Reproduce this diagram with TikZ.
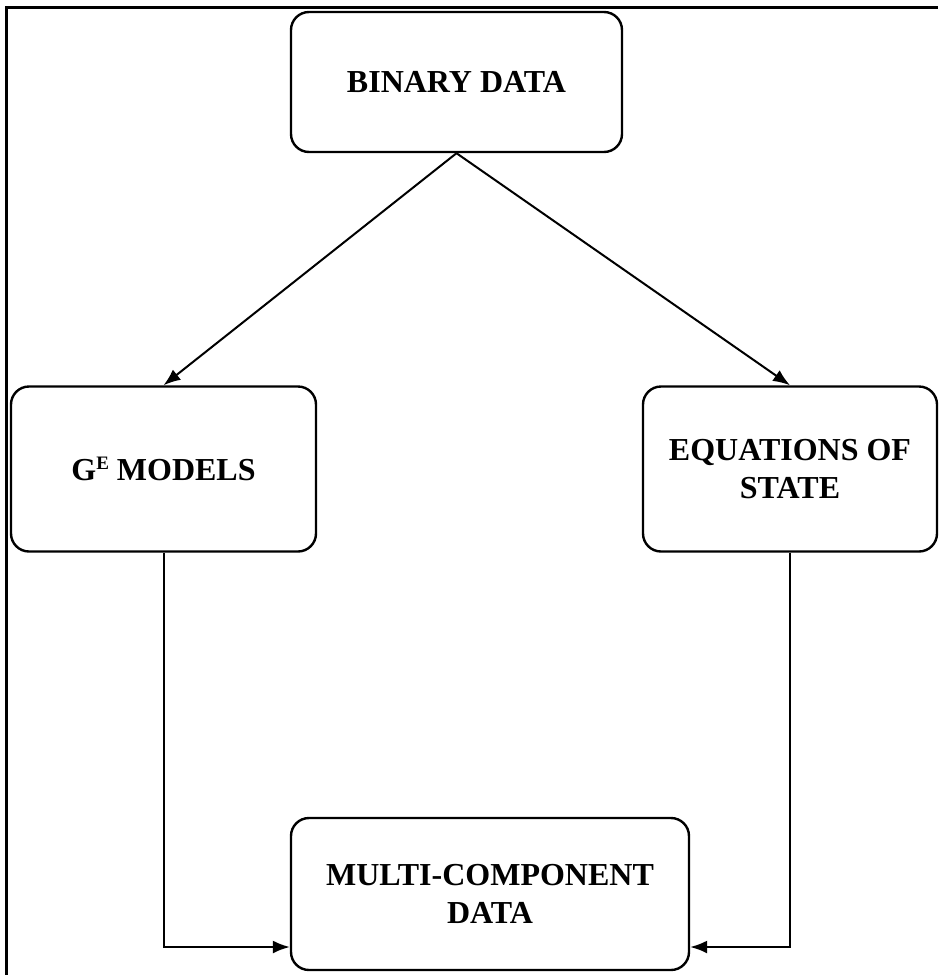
\documentclass[tikz,border=0pt]{standalone}
\usepackage{fontspec}
\setmainfont{Liberation Serif}
\usetikzlibrary{arrows.meta}

\begin{document}
\begin{tikzpicture}[x=1pt,y=-1pt,
		box/.style={draw, line width=2.4pt, rounded corners=18pt, align=center,
			font=\fontsize{32}{38}\selectfont\bfseries, inner sep=0pt},
		link/.style={line width=2pt, -{Latex[length=17pt,width=13pt]}}]
		
		\useasboundingbox (0,0) rectangle (938,975);
		
		% Rahmen
		\draw[line width=3pt] (6,975) -- (6,7) -- (938,7);
		
		% Kaesten
		\node[box, minimum width=331pt, minimum height=140pt] (bin) at (456.5,82) {BINARY DATA};
		\node[box, minimum width=305pt, minimum height=165pt] (gem) at (163.5,469) {G\raisebox{11pt}{\fontsize{19}{19}\selectfont E} MODELS};
		\node[box, minimum width=294pt, minimum height=165pt] (eos) at (790,469) {EQUATIONS OF\\STATE};
		\node[box, minimum width=398pt, minimum height=152pt] (mcd) at (490,894) {MULTI-COMPONENT\\DATA};
		
		% Eingaenge unten
		\coordinate (inL) at ([yshift=-53pt]mcd.west);
		\coordinate (inR) at ([yshift=-53pt]mcd.east);
		
		% Pfeile
		\draw[link] (bin.south) -- (gem.north);
		\draw[link] (bin.south) -- (eos.north);
		\draw[link] (gem.south) |- (inL);
		\draw[link] (eos.south) |- (inR);
		
	\end{tikzpicture}
\end{document}
